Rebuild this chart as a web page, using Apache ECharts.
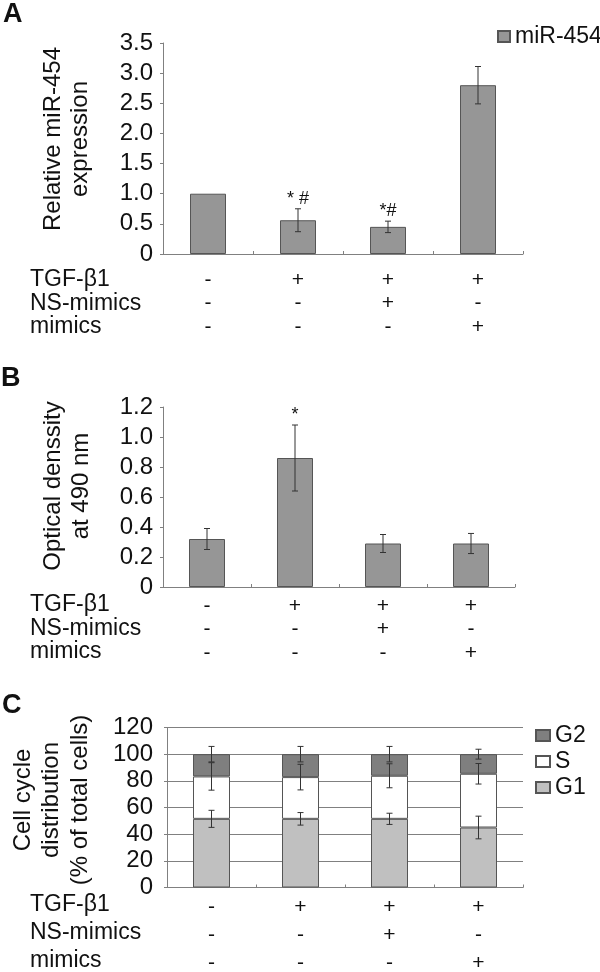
<!DOCTYPE html>
<html>
<head>
<meta charset="utf-8">
<script src="https://cdn.jsdelivr.net/npm/echarts@6/dist/echarts.min.js"></script>
<style>
html,body{margin:0;padding:0;background:#fff;}
#chart{width:600px;height:972px;}
</style>
</head>
<body>
<div id="chart"></div>
<script>
// ---- data ----
const tgfRow = ['-', '+', '+', '+'];
const nsRow = ['-', '-', '+', '-'];
const mimRow = ['-', '-', '-', '+'];
const rowLabels = ['TGF-β1', 'NS-mimics', 'mimics'];

const mirValues = [1.0, 0.56, 0.45, 2.80];
const mirErrors = [0, 0.19, 0.095, 0.31];
const mirMarks = ['', '* #', '*#', ''];

const odValues = [0.32, 0.86, 0.29, 0.29];
const odErrors = [0.07, 0.22, 0.06, 0.067];
const odMarks = ['', '*', '', ''];

const g1Values = [51.5, 51.5, 51.5, 45.0];
const sValues = [31.8, 31.3, 32.3, 40.3];
const g2Values = [16.7, 17.2, 16.2, 14.7];
const g1Errors = [6.4, 4.7, 4.2, 8.5];
const sErrors = [10.3, 9.6, 9.0, 7.7];
const g2Errors = [5.8, 5.8, 5.8, 3.7];

const yTicksA = [0, 3.5, 0.5];
const yTicksB = [0, 1.2, 0.2];
const yTicksC = [0, 120, 20];

// ---- build ----
const FONT = '"Liberation Sans", Arial, Helvetica, sans-serif';
const categories = tgfRow.map((t, i) => [t, nsRow[i], mimRow[i]].join('\n'));
const chart = echarts.init(document.getElementById('chart'), null, {renderer: 'canvas'});

function errRender(params, api) {
  const x = api.value(0), y = api.value(1), e = api.value(2);
  const mark = api.value(3);
  const children = [];
  const top = api.coord([x, y + e]);
  const bot = api.coord([x, y - e]);
  const cap = 3;
  const ls = {stroke: '#333', lineWidth: 1};
  if (e > 0) {
    children.push({type: 'line', shape: {x1: top[0], y1: top[1], x2: bot[0], y2: bot[1]}, style: ls});
    children.push({type: 'line', shape: {x1: top[0] - cap, y1: top[1], x2: top[0] + cap, y2: top[1]}, style: ls});
    children.push({type: 'line', shape: {x1: bot[0] - cap, y1: bot[1], x2: bot[0] + cap, y2: bot[1]}, style: ls});
  }
  if (mark) {
    children.push({type: 'text', x: top[0], y: top[1] - 1,
      style: {text: mark, font: '18px ' + FONT, fill: '#111', align: 'center', verticalAlign: 'bottom'}});
  }
  return {type: 'group', children};
}

function errData(vals, errs, marks) {
  return vals.map((v, i) => [i, v, errs[i], marks ? marks[i] : '']);
}

const cumS = g1Values.map((v, i) => v + sValues[i]);
const cumG2 = cumS.map((v, i) => v + g2Values[i]);

function yAxisDef(gi, ticks, fmt, margin, split) {
  return {
    type: 'value', gridIndex: gi, min: ticks[0], max: ticks[1], interval: ticks[2],
    axisLine: {show: true, lineStyle: {color: '#808080', width: 1}},
    axisTick: {show: true, length: 3, lineStyle: {color: '#808080'}},
    axisLabel: {fontSize: 24, fontFamily: FONT, color: '#111', margin: margin, formatter: fmt},
    splitLine: {show: split, lineStyle: {color: '#808080', width: 1}}
  };
}
function xAxisDef(gi, lh, margin) {
  return {
    type: 'category', gridIndex: gi, data: categories,
    axisLine: {show: true, lineStyle: {color: '#808080', width: 1}},
    axisTick: {show: true, inside: true, length: 3, lineStyle: {color: '#808080'}},
    axisLabel: {fontSize: 21, fontFamily: FONT, color: '#111', lineHeight: lh, margin: margin, interval: 0}
  };
}
const fmt1 = v => v === 0 ? '0' : v.toFixed(1);
const fmt0 = v => String(v);

function title(x, y, text) {
  return {type: 'text', x: x, y: y, rotation: Math.PI / 2,
    style: {text: text, font: '24px ' + FONT, fill: '#111', align: 'center', verticalAlign: 'middle'}};
}
function plain(x, y, text, size, weight) {
  return {type: 'text', x: x, y: y,
    style: {text: text, font: (weight || 'normal') + ' ' + size + 'px ' + FONT, fill: '#111', align: 'left', verticalAlign: 'middle'}};
}

const graphics = [
  plain(3, 15, 'A', 27, 'bold'),
  plain(1, 379, 'B', 27, 'bold'),
  plain(2, 706, 'C', 27, 'bold'),
  title(53, 139, 'Relative miR-454'),
  title(80, 139, 'expression'),
  title(53, 486, 'Optical denssity'),
  title(81, 486, 'at 490 nm'),
  title(23, 800, 'Cell cycle'),
  title(51, 800, 'distribution'),
  title(80, 800, '(% of total cells)')
];
const rowY = [[280, 303.5, 327], [605, 628.5, 652], [905, 933, 961]];
rowY.forEach(ys => ys.forEach((y, k) => graphics.push(plain(30, y, rowLabels[k], 23))));

const barStyle = {color: '#969696', borderColor: '#555', borderWidth: 1};

const option = {
  animation: false,
  backgroundColor: '#fff',
  textStyle: {fontFamily: FONT},
  grid: [
    {left: 163, top: 43, width: 360, height: 211, outerBoundsMode: 'none'},
    {left: 163, top: 407, width: 352, height: 180, outerBoundsMode: 'none'},
    {left: 167, top: 727.5, width: 356, height: 160, outerBoundsMode: 'none'}
  ],
  legend: [
    {data: ['miR-454'], left: 492, top: 20, itemWidth: 12, itemHeight: 11, icon: 'rect',
      textStyle: {fontSize: 23, fontFamily: FONT, color: '#111'}},
    {data: ['G2', 'S', 'G1'], orient: 'vertical', left: 530, top: 719, itemWidth: 14, itemHeight: 11, itemGap: 3, icon: 'rect',
      textStyle: {fontSize: 23, fontFamily: FONT, color: '#111', lineHeight: 23}}
  ],
  xAxis: [xAxisDef(0, 23.5, 14), xAxisDef(1, 23.5, 7), xAxisDef(2, 28, 6)],
  yAxis: [yAxisDef(0, yTicksA, fmt1, 10, false), yAxisDef(1, yTicksB, fmt1, 10, false), yAxisDef(2, yTicksC, fmt0, 14, true)],
  graphic: graphics,
  series: [
    {name: 'miR-454', type: 'bar', xAxisIndex: 0, yAxisIndex: 0, data: mirValues, barWidth: 36, itemStyle: barStyle},
    {type: 'custom', xAxisIndex: 0, yAxisIndex: 0, renderItem: errRender, data: errData(mirValues, mirErrors, mirMarks), z: 5},
    {name: 'OD', type: 'bar', xAxisIndex: 1, yAxisIndex: 1, data: odValues, barWidth: 36, itemStyle: barStyle},
    {type: 'custom', xAxisIndex: 1, yAxisIndex: 1, renderItem: errRender, data: errData(odValues, odErrors, odMarks), z: 5},
    {name: 'G1', type: 'bar', stack: 'cc', xAxisIndex: 2, yAxisIndex: 2, data: g1Values, barWidth: 37,
      itemStyle: {color: '#c0c0c0', borderColor: '#555', borderWidth: 1}},
    {name: 'S', type: 'bar', stack: 'cc', xAxisIndex: 2, yAxisIndex: 2, data: sValues, barWidth: 37,
      itemStyle: {color: '#ffffff', borderColor: '#555', borderWidth: 1}},
    {name: 'G2', type: 'bar', stack: 'cc', xAxisIndex: 2, yAxisIndex: 2, data: g2Values, barWidth: 37,
      itemStyle: {color: '#7f7f7f', borderColor: '#555', borderWidth: 1}},
    {type: 'custom', xAxisIndex: 2, yAxisIndex: 2, renderItem: errRender, data: errData(g1Values, g1Errors), z: 5},
    {type: 'custom', xAxisIndex: 2, yAxisIndex: 2, renderItem: errRender, data: errData(cumS, sErrors), z: 5},
    {type: 'custom', xAxisIndex: 2, yAxisIndex: 2, renderItem: errRender, data: errData(cumG2, g2Errors), z: 5}
  ]
};
chart.setOption(option);
</script>
</body>
</html>
